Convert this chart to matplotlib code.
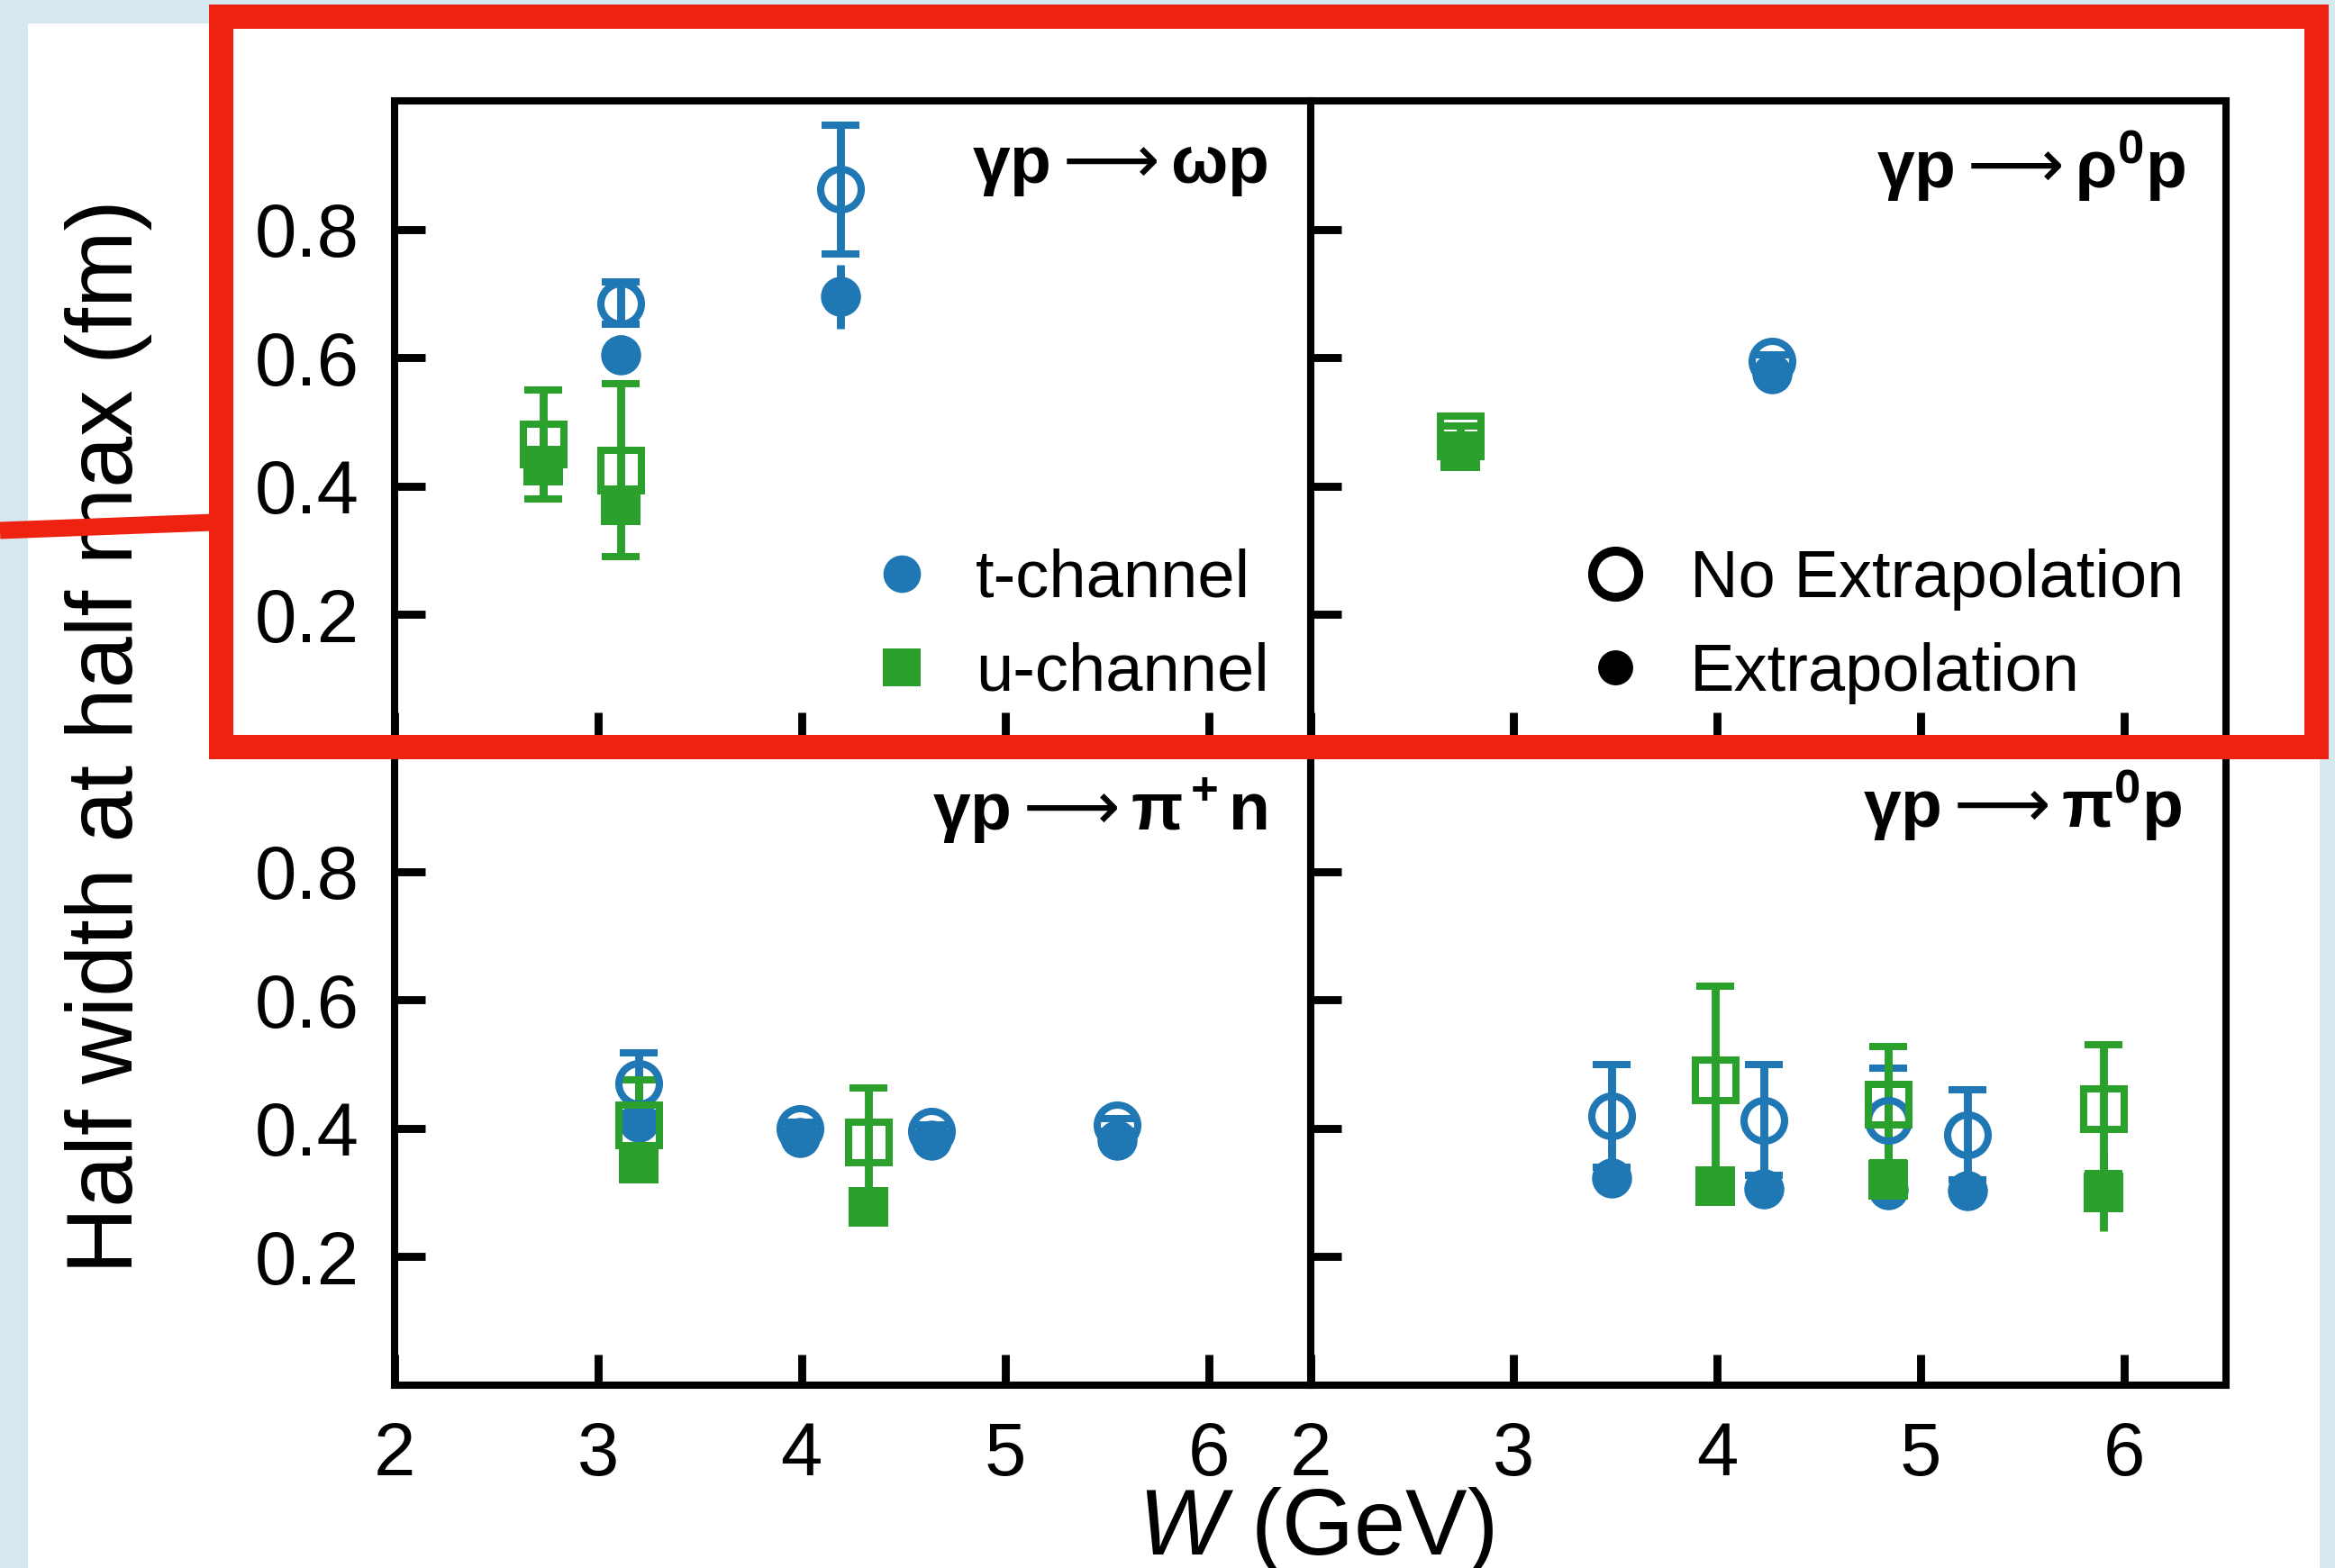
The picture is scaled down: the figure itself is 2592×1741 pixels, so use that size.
import numpy as np
import matplotlib.pyplot as plt
from matplotlib.lines import Line2D
from matplotlib.patches import Rectangle

plt.rcParams['font.family'] = ['Liberation Sans', 'DejaVu Sans']
plt.rcParams['mathtext.fontset'] = 'custom'
plt.rcParams['mathtext.rm'] = 'Liberation Sans'
plt.rcParams['mathtext.it'] = 'Liberation Sans:italic'
plt.rcParams['mathtext.bf'] = 'Liberation Sans:bold'
plt.rcParams['mathtext.sf'] = 'DejaVu Sans'
plt.rcParams['mathtext.fallback'] = 'stixsans'

BLUE = '#1f77b4'
GREEN = '#2ca02c'
RED = '#ee2211'
BG = '#d5e8ef'

# ---- data (W in GeV, half width at half max in fm) ----
# gamma p -> omega p
omega_t_W = [3.11, 4.19]
omega_t_open = [0.685, 0.862]
omega_t_open_err = [0.033, 0.10]
omega_t_fill = [0.605, 0.695]
omega_t_fill_err = [0.03, 0.05]
omega_u_W = [2.73, 3.11]
omega_u_open = [0.465, 0.425]
omega_u_open_err = [0.085, 0.135]
omega_u_fill = [0.432, 0.37]
omega_u_fill_err = [0.05, 0.02]

# gamma p -> rho0 p
rho_t_W = [4.27]
rho_t_open = [0.595]
rho_t_open_err = [0.01]
rho_t_fill = [0.575]
rho_t_fill_err = [0.01]
rho_u_W = [2.735]
rho_u_open = [0.478]
rho_u_open_err = [0.015]
rho_u_fill = [0.455]
rho_u_fill_err = [0.01]

# gamma p -> pi+ n
pip_t_W = [3.2, 3.99, 4.64, 5.55]
pip_t_open = [0.47, 0.40, 0.396, 0.405]
pip_t_open_err = [0.047, 0.01, 0.01, 0.01]
pip_t_fill = [0.41, 0.385, 0.382, 0.382]
pip_t_fill_err = [0.01, 0.01, 0.01, 0.01]
pip_u_W = [3.2, 4.33]
pip_u_open = [0.405, 0.378]
pip_u_open_err = [0.07, 0.085]
pip_u_fill = [0.345, 0.278]
pip_u_fill_err = [0.02, 0.02]

# gamma p -> pi0 p
pi0_t_W = [3.48, 4.23, 4.84, 5.23]
pi0_t_open = [0.42, 0.413, 0.413, 0.39]
pi0_t_open_err = [0.08, 0.086, 0.08, 0.07]
pi0_t_fill = [0.322, 0.306, 0.305, 0.303]
pi0_t_fill_err = [0.02, 0.015, 0.015, 0.015]
pi0_u_W = [3.99, 4.84, 5.9]
pi0_u_open = [0.476, 0.437, 0.43]
pi0_u_open_err = [0.145, 0.09, 0.10]
pi0_u_fill = [0.31, 0.32, 0.30]
pi0_u_fill_err = [0.02, 0.04, 0.06]

arrow = r'\mathsf{\longrightarrow}'
titles = [r'$\mathbf{\gamma p}' + arrow + r'\mathbf{\omega p}$',
          r'$\mathbf{\gamma p}' + arrow + r'\mathbf{\rho^0 p}$',
          r'$\mathbf{\gamma p}' + arrow + r'\mathbf{\pi^+ n}$',
          r'$\mathbf{\gamma p}' + arrow + r'\mathbf{\pi^0 p}$']

W_PX, H_PX, DPI = 2592, 1741, 200


def points(ax, W, y, err, color, marker, filled):
    ax.errorbar(W, y, yerr=err, fmt=marker, color=color,
                mfc=color if filled else 'none', mec=color,
                ms=16.0 if filled else 16.2, mew=0 if filled else 2.9,
                elinewidth=3.2, capsize=7.5, capthick=3.6)


fig, axes = plt.subplots(2, 2, figsize=(W_PX / DPI, H_PX / DPI), dpi=DPI)
fig.patch.set_facecolor(BG)
fig.subplots_adjust(left=438 / W_PX, right=2471 / W_PX,
                    top=1 - 112 / H_PX, bottom=1 - 1538 / H_PX,
                    wspace=0, hspace=0)

panels = [
    (omega_t_W, omega_t_open, omega_t_open_err, omega_t_fill, omega_t_fill_err,
     omega_u_W, omega_u_open, omega_u_open_err, omega_u_fill, omega_u_fill_err),
    (rho_t_W, rho_t_open, rho_t_open_err, rho_t_fill, rho_t_fill_err,
     rho_u_W, rho_u_open, rho_u_open_err, rho_u_fill, rho_u_fill_err),
    (pip_t_W, pip_t_open, pip_t_open_err, pip_t_fill, pip_t_fill_err,
     pip_u_W, pip_u_open, pip_u_open_err, pip_u_fill, pip_u_fill_err),
    (pi0_t_W, pi0_t_open, pi0_t_open_err, pi0_t_fill, pi0_t_fill_err,
     pi0_u_W, pi0_u_open, pi0_u_open_err, pi0_u_fill, pi0_u_fill_err),
]
title_pos = [(0.953, 0.945), (0.956, 0.957), (0.953, 0.948), (0.952, 0.961)]

for i, ax in enumerate(axes.flat):
    tW, to, toe, tf, tfe, uW, uo, uoe, uf, ufe = panels[i]
    points(ax, tW, to, toe, BLUE, 'o', False)
    points(ax, tW, tf, tfe, BLUE, 'o', True)
    points(ax, uW, uo, uoe, GREEN, 's', False)
    points(ax, uW, uf, ufe, GREEN, 's', True)

    ax.set_xlim(2, 6.5)
    ax.set_ylim(0, 1.0)
    ax.set_xticks([2, 3, 4, 5, 6])
    ax.set_yticks([0.2, 0.4, 0.6, 0.8])
    ax.tick_params(direction='in', length=12.4, width=3.2, labelsize=30,
                   pad=14, top=False, right=False,
                   labelbottom=(i >= 2), labelleft=(i % 2 == 0))
    for s in ax.spines.values():
        s.set_linewidth(2.9)
    ax.text(title_pos[i][0], title_pos[i][1], titles[i], transform=ax.transAxes,
            ha='right', va='top', fontsize=27)

# legends
h1 = [Line2D([], [], marker='o', ls='none', color=BLUE, ms=15, mew=0),
      Line2D([], [], marker='s', ls='none', color=GREEN, ms=15, mew=0)]
axes[0, 0].legend(h1, ['t-channel', 'u-channel'], loc='lower right',
                  bbox_to_anchor=(0.955, 0.061), frameon=False, fontsize=26.7,
                  handlelength=1.0, handletextpad=0.6, labelspacing=0.47,
                  borderpad=0, borderaxespad=0)
h2 = [Line2D([], [], marker='o', ls='none', mfc='none', mec='k', ms=18.4, mew=3.6),
      Line2D([], [], marker='o', ls='none', color='k', ms=14, mew=0)]
axes[0, 1].legend(h2, ['No Extrapolation', 'Extrapolation'], loc='lower right',
                  bbox_to_anchor=(0.954, 0.061), frameon=False, fontsize=26.7,
                  handlelength=1.0, handletextpad=0.62, labelspacing=0.47,
                  borderpad=0, borderaxespad=0)

fig.text(121 / W_PX, 1 - 818 / H_PX, 'Half width at half max (fm)',
         rotation=90, ha='center', va='center', fontsize=37)
fig.text(1461 / W_PX, 1 - 1726 / H_PX, r'$W$ (GeV)', ha='center',
         va='baseline', fontsize=37)

# page and highlight overlay
fig.add_artist(Rectangle((31 / W_PX, 0), (2575 - 31) / W_PX, 1 - 26 / H_PX,
                         transform=fig.transFigure, facecolor='white',
                         edgecolor='none', zorder=-5))
fig.add_artist(Rectangle((244.5 / W_PX, 1 - 828.5 / H_PX),
                         (2570.5 - 244.5) / W_PX, (828.5 - 17.5) / H_PX,
                         transform=fig.transFigure, facecolor='none',
                         edgecolor=RED, linewidth=27 * 72 / DPI, zorder=10))
fig.add_artist(Line2D([0, 237 / W_PX], [1 - 589 / H_PX, 1 - 580 / H_PX],
                      transform=fig.transFigure, color=RED,
                      linewidth=19 * 72 / DPI, solid_capstyle='butt', zorder=10))

fig.savefig('out.png', dpi=DPI, facecolor=BG)
